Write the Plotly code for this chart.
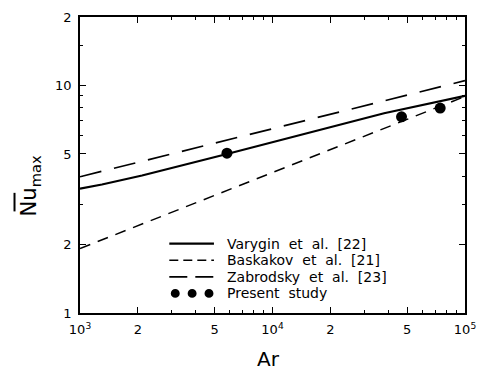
import plotly.graph_objects as go

# ---- data ----
varygin_ar = [1000, 1300, 2100, 5800, 38000, 100000]
varygin_nu = [3.52, 3.67, 4.02, 5.0, 7.55, 9.0]

baskakov_ar = [1000, 100000]
baskakov_nu = [1.92, 8.95]

zabrodsky_ar = [1000, 100000]
zabrodsky_nu = [3.97, 10.5]

present_ar = [5800, 46800, 74300]
present_nu = [5.04, 7.28, 7.96]

x_tickvals = [1e3, 2e3, 5e3, 1e4, 2e4, 5e4, 1e5]
x_ticktext = ["10<sup>3</sup>", "2", "5", "10<sup>4</sup>", "2", "5", "10<sup>5</sup>"]
y_tickvals = [1, 2, 5, 10, 20]
y_ticktext = ["1", "2", "5", "10", "2"]

legend_labels = ["Varygin et al. [22]", "Baskakov et al. [21]",
                 "Zabrodsky et al. [23]", "Present study"]

FONT = "DejaVu Sans"
W, H = 486, 375
L, R, T, B = 80, 468, 10, 313


def px(x):
    return (x - L) / (R - L)


def py(y):
    return (B - y) / (B - T)


fig = go.Figure()
fig.add_trace(go.Scatter(x=varygin_ar, y=varygin_nu, mode="lines",
                         line=dict(color="black", width=2.2), showlegend=False))
fig.add_trace(go.Scatter(x=baskakov_ar, y=baskakov_nu, mode="lines",
                         line=dict(color="black", width=1.5, dash="11px,8px"), showlegend=False))
fig.add_trace(go.Scatter(x=zabrodsky_ar, y=zabrodsky_nu, mode="lines",
                         line=dict(color="black", width=1.7, dash="22px,13px"), showlegend=False))
fig.add_trace(go.Scatter(x=present_ar, y=present_nu, mode="markers",
                         marker=dict(color="black", size=11), showlegend=False))

minor_x = [m * d for d in (1e3, 1e4) for m in (3, 4, 6, 7, 8, 9)]
minor_y = [3, 4, 6, 7, 8, 9, 15]

axis_common = dict(showgrid=False, zeroline=False, showline=True, linecolor="black",
                   linewidth=1.5, ticks="inside", ticklen=6, tickcolor="black",
                   tickwidth=1.2, mirror="allticks",
                   tickfont=dict(family=FONT, size=13, color="black"))

fig.update_xaxes(type="log", range=[3, 5], tickmode="array", tickvals=x_tickvals,
                 ticktext=x_ticktext, ticklabelstandoff=4,
                 minor=dict(tickvals=minor_x, ticks="inside", ticklen=3, tickcolor="black"),
                 **axis_common)
fig.update_yaxes(type="log", range=[0, 1.30103], tickmode="array", tickvals=y_tickvals,
                 ticktext=y_ticktext, ticklabelstandoff=4,
                 minor=dict(tickvals=minor_y, ticks="inside", ticklen=3, tickcolor="black"),
                 **axis_common)

shapes = []
annotations = []

# custom legend
rows = [242, 259, 276, 293]
x0, x1 = 170, 215
shapes.append(dict(type="line", xref="paper", yref="paper", x0=px(x0), x1=px(x1),
                   y0=py(rows[0]), y1=py(rows[0]), line=dict(color="black", width=2.2)))
shapes.append(dict(type="line", xref="paper", yref="paper", x0=px(x0), x1=px(x1),
                   y0=py(rows[1]), y1=py(rows[1]), line=dict(color="black", width=1.5, dash="9px,5px")))
shapes.append(dict(type="line", xref="paper", yref="paper", x0=px(x0), x1=px(x1),
                   y0=py(rows[2]), y1=py(rows[2]), line=dict(color="black", width=1.7, dash="18px,8px")))
for cx in (176, 193, 210):
    shapes.append(dict(type="circle", xref="paper", yref="paper",
                       x0=px(cx - 4.5), x1=px(cx + 4.5), y0=py(rows[3] + 4.5), y1=py(rows[3] - 4.5),
                       fillcolor="black", line=dict(color="black", width=0)))
NB = "\u00a0"
for lab, r in zip(legend_labels, rows):
    annotations.append(dict(text=lab.replace(" ", NB * 2), xref="paper", yref="paper",
                            x=px(226), y=py(r),
                            xanchor="left", yanchor="middle", showarrow=False,
                            font=dict(family=FONT, size=14, color="black")))

# axis titles
annotations.append(dict(text="Ar", xref="paper", yref="paper", x=px(270), y=py(360),
                        xanchor="center", yanchor="middle", showarrow=False,
                        font=dict(family=FONT, size=20, color="black")))
annotations.append(dict(text="Nu<sub>max</sub>", xref="paper", yref="paper", x=px(30), y=py(183),
                        xanchor="center", yanchor="middle", showarrow=False, textangle=-90,
                        font=dict(family=FONT, size=21, color="black")))
# overline on Nu
shapes.append(dict(type="line", xref="paper", yref="paper", x0=px(14), x1=px(14),
                   y0=py(190), y1=py(209), line=dict(color="black", width=2)))

fig.update_layout(width=W, height=H, margin=dict(l=L, r=W - R, t=T, b=H - B),
                  plot_bgcolor="white", paper_bgcolor="white",
                  shapes=shapes, annotations=annotations, showlegend=False)

fig.write_html("out.html")
